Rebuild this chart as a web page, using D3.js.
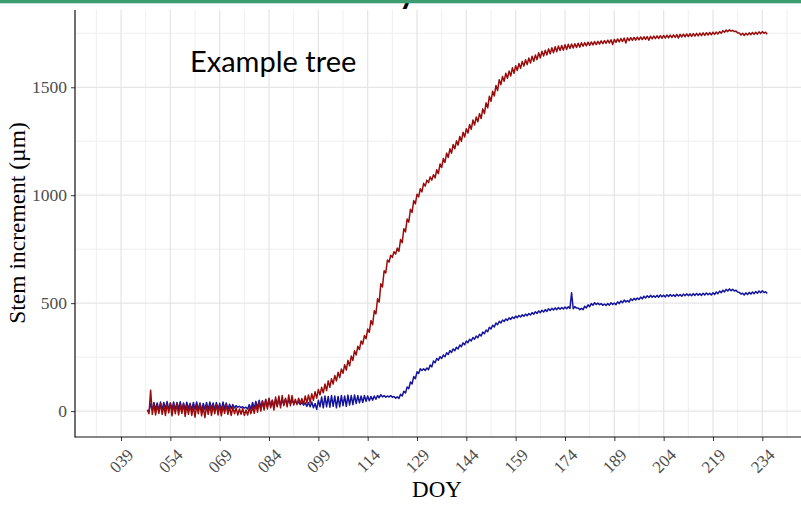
<!DOCTYPE html>
<html>
<head>
<meta charset="utf-8">
<script src="https://cdn.jsdelivr.net/npm/d3@7"></script>
<style>
  html, body { margin: 0; padding: 0; background: #fff; }
  svg { display: block; }
</style>
</head>
<body>
<svg id="chart" width="801" height="506"></svg>
<script>
// Day-of-year tick labels on the x axis
const doyTicks = ["039", "054", "069", "084", "099", "114", "129", "144",
                  "159", "174", "189", "204", "219", "234"];
// Stem increment ticks (µm)
const incrementTicks = [0, 500, 1000, 1500];

// Dendrometer readings: two per day (night high, afternoon low), starting DOY 47
const firstDoy = 47;
const readingStep = 0.5;

// Tree with strong growth (µm)
const redTree = [
  // 47-56
  5, -12, 97, -15, 30, -18, 28, -10, 35, -15, 25, -20, 32, -8, 38, -22, 30, -12, 35, -18,
  // 57-66
  28, -10, 33, -25, 25, -15, 30, -20, 22, -28, 28, -12, 32, -22, 20, -30, 25, -15, 28, -20,
  // 67-76
  24, -12, 30, -18, 26, -22, 22, -10, 28, -15, 20, -20, 18, -12, 15, -18, 10, -15, 12, -20,
  // 77-86
  5, -18, 15, -12, 20, -10, 30, -5, 40, 0, 45, 5, 55, 10, 60, 15, 50, 5, 65, 20,
  // 87-96
  70, 15, 72, 25, 60, 20, 75, 25, 72, 28, 55, 30, 60, 35, 58, 30, 70, 38, 75, 40,
  // 97-106
  80, 50, 90, 60, 100, 75, 110, 85, 125, 95, 140, 110, 150, 125, 165, 140, 180, 155, 195, 175,
  // 107-116
  215, 190, 235, 210, 255, 235, 280, 260, 300, 285, 325, 310, 350, 335, 380, 365, 420, 400, 465, 450,
  // 117-126
  520, 505, 590, 575, 650, 640, 700, 690, 722, 712, 738, 728, 755, 740, 795, 780, 845, 830, 890, 875,
  // 127-136
  935, 920, 975, 960, 1005, 992, 1030, 1015, 1055, 1042, 1070, 1058, 1085, 1070, 1095, 1080, 1118, 1100, 1145, 1128,
  // 137-146
  1170, 1152, 1195, 1175, 1215, 1195, 1235, 1215, 1252, 1232, 1272, 1250, 1292, 1270, 1308, 1288, 1328, 1305, 1348, 1325,
  // 147-156
  1362, 1340, 1378, 1355, 1400, 1378, 1428, 1405, 1458, 1435, 1482, 1460, 1508, 1485, 1535, 1512, 1550, 1528, 1565, 1542,
  // 157-166
  1575, 1552, 1590, 1565, 1600, 1578, 1610, 1588, 1620, 1598, 1628, 1605, 1636, 1612, 1644, 1620, 1650, 1628, 1660, 1636,
  // 167-176
  1667, 1645, 1672, 1650, 1678, 1655, 1683, 1660, 1688, 1665, 1691, 1670, 1694, 1672, 1697, 1675, 1699, 1680, 1700, 1682,
  // 177-186
  1702, 1684, 1704, 1686, 1706, 1690, 1707, 1692, 1709, 1694, 1710, 1696, 1712, 1698, 1713, 1700, 1715, 1702, 1716, 1704,
  // 187-196
  1718, 1705, 1720, 1698, 1722, 1708, 1724, 1710, 1726, 1712, 1728, 1705, 1729, 1716, 1730, 1717, 1731, 1718, 1732, 1720,
  // 197-206
  1733, 1721, 1734, 1722, 1735, 1718, 1736, 1724, 1737, 1725, 1738, 1726, 1739, 1727, 1740, 1728, 1741, 1729, 1742, 1730,
  // 207-216
  1743, 1731, 1744, 1728, 1745, 1733, 1746, 1734, 1747, 1735, 1748, 1736, 1749, 1737, 1750, 1738, 1751, 1739, 1752, 1740,
  // 217-226
  1753, 1742, 1754, 1743, 1755, 1745, 1756, 1747, 1758, 1750, 1762, 1755, 1765, 1758, 1766, 1760, 1764, 1758, 1760, 1752,
  // 227-235
  1752, 1742, 1750, 1740, 1750, 1742, 1752, 1744, 1754, 1745, 1755, 1746, 1757, 1748, 1758, 1750, 1755, 1746
];

// Tree with weak growth (µm)
const blueTree = [
  // 47-56
  5, -2, 35, 5, 40, 8, 38, 3, 42, 6, 40, 10, 44, 5, 38, 8, 42, 4, 40, 9,
  // 57-66
  43, 6, 38, 5, 41, 10, 36, 4, 40, 8, 42, 6, 38, 3, 35, 8, 40, 5, 42, 10,
  // 67-76
  38, 6, 40, 8, 36, 5, 42, 10, 38, 7, 32, 12, 30, 15, 25, 18, 22, 16, 20, 14,
  // 77-86
  18, 10, 30, 8, 40, 12, 45, 15, 50, 18, 48, 15, 52, 20, 55, 22, 50, 18, 55, 25,
  // 87-96
  58, 28, 52, 30, 55, 32, 50, 35, 48, 38, 45, 35, 42, 30, 40, 28, 38, 22, 40, 20,
  // 97-106
  42, 15, 35, 8, 50, 20, 65, 15, 70, 20, 68, 18, 72, 22, 70, 15, 68, 20, 72, 25,
  // 107-116
  70, 22, 74, 28, 72, 30, 75, 35, 72, 38, 70, 40, 72, 45, 70, 48, 68, 50, 70, 55,
  // 117-126
  72, 62, 76, 66, 72, 64, 70, 65, 72, 64, 68, 60, 66, 58, 78, 70, 92, 84, 112, 104,
  // 127-136
  135, 126, 160, 150, 182, 174, 196, 188, 196, 188, 200, 192, 214, 205, 232, 224, 244, 236, 252, 244,
  // 137-146
  260, 252, 270, 262, 280, 272, 288, 280, 296, 288, 306, 298, 316, 307, 325, 317, 333, 325, 341, 333,
  // 147-156
  348, 340, 356, 348, 366, 358, 376, 368, 388, 380, 398, 390, 408, 400, 416, 408, 422, 415, 427, 420,
  // 157-166
  432, 425, 436, 429, 440, 433, 443, 436, 446, 439, 449, 442, 452, 445, 456, 449, 460, 452, 464, 456,
  // 167-176
  467, 459, 470, 462, 474, 466, 476, 468, 478, 470, 480, 472, 480, 473, 482, 474, 483, 475, 548, 474,
  // 177-186
  484, 477, 478, 470, 476, 470, 486, 478, 492, 484, 498, 490, 502, 494, 500, 493, 498, 490, 496, 489,
  // 187-196
  498, 491, 502, 494, 500, 493, 506, 498, 510, 502, 514, 506, 512, 505, 520, 512, 522, 515, 524, 517,
  // 197-206
  528, 520, 532, 524, 534, 526, 536, 528, 534, 527, 536, 528, 538, 530, 537, 529, 539, 531, 540, 532,
  // 207-216
  539, 531, 541, 533, 540, 532, 542, 534, 543, 535, 542, 534, 544, 536, 545, 537, 544, 536, 546, 538,
  // 217-226
  547, 539, 546, 538, 548, 540, 552, 544, 556, 548, 560, 552, 564, 556, 566, 558, 564, 556, 560, 552,
  // 227-235
  550, 542, 546, 538, 548, 540, 550, 542, 552, 544, 554, 546, 556, 548, 557, 549, 553, 545
];

const W = 801, H = 506;
const panel = { left: 75, right: 810, top: 10, bottom: 437 };
const serif = "'Liberation Serif', 'Times New Roman', serif";

const svg = d3.select("#chart");

const x = d3.scaleLinear().domain([25, 248.5]).range([panel.left, panel.right]);
const y = d3.scaleLinear().domain([-120, 1858]).range([panel.bottom, panel.top]);

const majorX = doyTicks.map(Number);
const minorX = majorX.map(d => d - 7.5).concat([majorX[majorX.length - 1] + 7.5]);
const minorY = [250, 750, 1250, 1750];

// Background grid
const grid = svg.append("g");
grid.selectAll(".gxm").data(minorX).join("line")
  .attr("x1", d => x(d)).attr("x2", d => x(d))
  .attr("y1", panel.top).attr("y2", panel.bottom)
  .attr("stroke", "#efefef").attr("stroke-width", 1);
grid.selectAll(".gym").data(minorY).join("line")
  .attr("x1", panel.left).attr("x2", W)
  .attr("y1", d => y(d)).attr("y2", d => y(d))
  .attr("stroke", "#efefef").attr("stroke-width", 1);
grid.selectAll(".gx").data(majorX).join("line")
  .attr("x1", d => x(d)).attr("x2", d => x(d))
  .attr("y1", panel.top).attr("y2", panel.bottom)
  .attr("stroke", "#e6e6e6").attr("stroke-width", 1.3);
grid.selectAll(".gy").data(incrementTicks).join("line")
  .attr("x1", panel.left).attr("x2", W)
  .attr("y1", d => y(d)).attr("y2", d => y(d))
  .attr("stroke", "#e6e6e6").attr("stroke-width", 1.3);

// Series lines
svg.append("clipPath").attr("id", "plotClip").append("rect")
  .attr("x", panel.left).attr("y", panel.top)
  .attr("width", W - panel.left).attr("height", panel.bottom - panel.top);

const line = d3.line()
  .x((d, i) => x(firstDoy + i * readingStep))
  .y(d => y(d));

const plot = svg.append("g").attr("clip-path", "url(#plotClip)");
plot.append("path").datum(blueTree).attr("d", line)
  .attr("fill", "none").attr("stroke", "#14149c").attr("stroke-width", 1.5)
  .attr("stroke-linejoin", "round");
plot.append("path").datum(redTree).attr("d", line)
  .attr("fill", "none").attr("stroke", "#9a0c0c").attr("stroke-width", 1.5)
  .attr("stroke-linejoin", "round");

// Axes
const xAxis = d3.axisBottom(x).tickValues(majorX).tickSize(4).tickFormat((d, i) => doyTicks[i]);
const gx = svg.append("g").attr("transform", `translate(0,${panel.bottom})`).call(xAxis);
gx.select(".domain").remove();
gx.selectAll(".tick line").attr("stroke", "#333").attr("stroke-width", 1);
gx.selectAll(".tick text")
  .attr("font-family", serif)
  .attr("font-size", 17).attr("fill", "#4d4d4d")
  .attr("text-anchor", "end")
  .attr("dy", null).attr("y", null)
  .attr("transform", "translate(13,19) rotate(-45)");

const yAxis = d3.axisLeft(y).tickValues(incrementTicks).tickSize(4).tickFormat(d3.format("d"));
const gy = svg.append("g").attr("transform", `translate(${panel.left},0)`).call(yAxis);
gy.select(".domain").remove();
gy.selectAll(".tick line").attr("stroke", "#333").attr("stroke-width", 1);
gy.selectAll(".tick text")
  .attr("font-family", serif)
  .attr("font-size", 17.5).attr("fill", "#4d4d4d").attr("x", -8);

svg.append("line").attr("x1", panel.left).attr("x2", panel.left)
  .attr("y1", panel.top).attr("y2", panel.bottom + 0.5)
  .attr("stroke", "#111").attr("stroke-width", 1.2);
svg.append("line").attr("x1", panel.left).attr("x2", W)
  .attr("y1", panel.bottom).attr("y2", panel.bottom)
  .attr("stroke", "#111").attr("stroke-width", 1.2);

// Axis titles
svg.append("text").text("DOY")
  .attr("x", 437).attr("y", 497).attr("text-anchor", "middle")
  .attr("font-family", serif)
  .attr("font-size", 23).attr("fill", "#000");

svg.append("text").text("Stem increment (µm)")
  .attr("transform", "translate(25,223) rotate(-90)").attr("text-anchor", "middle")
  .attr("font-family", serif)
  .attr("font-size", 23.5).attr("fill", "#000");

// In-panel annotation
svg.append("text").text("Example tree")
  .attr("x", 190).attr("y", 72)
  .attr("font-family", "Lato, 'Open Sans', sans-serif")
  .attr("font-size", 29).attr("fill", "#000");

// Slide header strip with the descender of its heading showing below it
svg.append("text").text("y")
  .attr("x", 397).attr("y", 1)
  .attr("font-family", "Lato, 'Open Sans', sans-serif")
  .attr("font-size", 44).attr("fill", "#000");
svg.append("rect").attr("x", 0).attr("y", 0).attr("width", W).attr("height", 3.3)
  .attr("fill", "#3c9b6f");
</script>
</body>
</html>
